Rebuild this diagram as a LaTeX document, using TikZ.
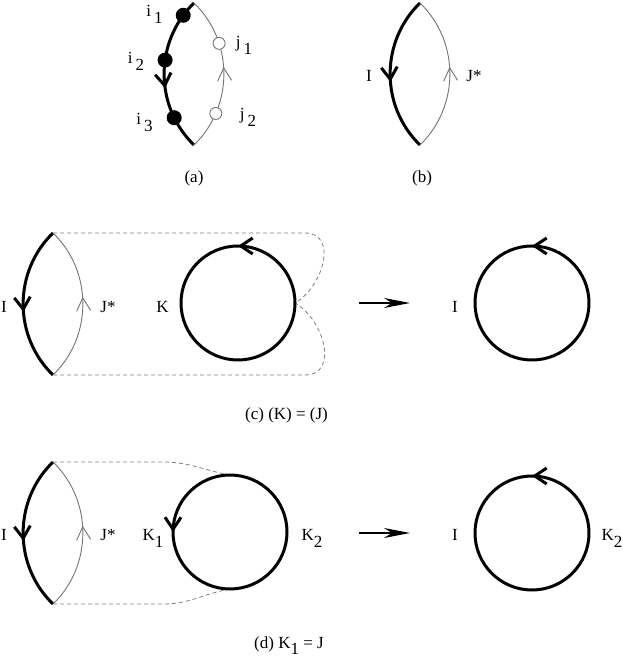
\documentclass[tikz,border=0pt]{standalone}
\usepackage{fontspec}
\setmainfont{Liberation Serif}
\usetikzlibrary{arrows.meta,decorations.markings,positioning}
\newcommand{\lowsub}[1]{\raisebox{-0.36em}{#1}}
\tikzstyle{lbl} = [font=\fontsize{17}{20}\selectfont, inner sep=0pt, anchor=base]
\tikzstyle{thickarc} = [line width=3pt]
\tikzstyle{thinarc} = [line width=0.9pt, draw=black!55]
\tikzstyle{dashline} = [line width=0.8pt, draw=black!50, dash pattern=on 4pt off 3pt]
\tikzstyle{dot} = [circle, fill=black, inner sep=0pt, minimum size=15pt]
\tikzstyle{hole} = [circle, draw=black!55, fill=white, line width=0.9pt, inner sep=0pt, minimum size=12pt]
\tikzstyle{loopnode} = [circle, inner sep=0pt, outer sep=0pt, minimum size=114pt]
\tikzstyle{arrow} = [line width=2pt, -{Stealth[length=26pt,width=10pt,inset=8pt]}]
\tikzset{
	flow/.style={postaction={decorate,decoration={markings,mark=at position #1 with {\arrow{Straight Barb[length=12pt,width=16pt]}}}}},
	thinflow/.style={postaction={decorate,decoration={markings,mark=at position #1 with {\arrow{Straight Barb[length=13pt,width=14pt]}}}}}
}
\begin{document}
\begin{tikzpicture}[x=1pt, y=1pt]
	\useasboundingbox (0,0) rectangle (623,658);

	% (a)
	\coordinate (at) at (194,655);
	\coordinate (ab) at (194,513);
	\draw [thickarc, flow=0.59] (at) to[bend right=46] (ab);
	\draw [thinarc, thinflow=0.545] (ab) to[bend right=46] (at);
	\path (at) to[bend right=46] node[dot, pos=0.1] (i1) {} node[dot, pos=0.41] (i2) {} node[dot, pos=0.79] (i3) {} (ab);
	\path (ab) to[bend right=46] node[hole, pos=0.24] (j2) {} node[hole, pos=0.7] (j1) {} (at);
	\node (li1) [lbl] at (154.5,641) {i\,\lowsub{1}};
	\node (li2) [lbl] at (136,594) {i\,\lowsub{2}};
	\node (li3) [lbl] at (144.5,533) {i\,\lowsub{3}};
	\node (lj1) [lbl] at (244,610) {j\,\lowsub{1}};
	\node (lj2) [lbl] at (248,538) {j\,\lowsub{2}};
	\node (capa) [lbl] at (194,475) {(a)};

	% (b)
	\coordinate (bt) at (420,655);
	\coordinate (bb) at (420,513);
	\draw [thickarc, flow=0.55] (bt) to[bend right=46] (bb);
	\draw [thinarc, thinflow=0.545] (bb) to[bend right=46] (bt);
	\node (bI) [lbl] at (369,576) {I};
	\node (bJ) [lbl] at (474,576) {J*};
	\node (capb) [lbl] at (422,475) {(b)};

	% (c)
	\coordinate (ct) at (53,425);
	\coordinate (cb) at (53,283);
	\node (K) [loopnode] at (238,355) {};
	\draw [dashline] (ct) -- ++(252,0) to[out=0, in=30, looseness=1.2] (K.east);
	\draw [dashline] (cb) -- ++(252,0) to[out=0, in=-30, looseness=1.2] (K.east);
	\draw [thickarc, flow=0.55] (ct) to[bend right=46] (cb);
	\draw [thinarc, thinflow=0.545] (cb) to[bend right=46] (ct);
	\draw [thickarc, flow=0.25] (K.center) circle (57pt);
	\node (cI) [lbl] at (4,345) {I};
	\node (cJ) [lbl] at (108,345) {J*};
	\node (cK) [lbl] at (162.5,345) {K};
	\coordinate (cfrom) at (359,355);
	\coordinate (cto) at (410,355);
	\draw [arrow] (cfrom) -- (cto);
	\node (Ic) [loopnode] at (532,355) {};
	\draw [thickarc, flow=0.25] (Ic.center) circle (57pt);
	\node (cI2) [lbl] at (455,345) {I};
	\node (capc) [lbl] at (286.5,238) {(c) (K) = (J)};

	% (d)
	\coordinate (dt) at (53,196);
	\coordinate (db) at (53,54);
	\node (K1) [loopnode] at (230,126) {};
	\draw [dashline] (dt) -- ++(110,0) to[out=0, in=170] (K1.north);
	\draw [dashline] (db) -- ++(110,0) to[out=0, in=190] (K1.south);
	\draw [thickarc, flow=0.55] (dt) to[bend right=46] (db);
	\draw [thinarc, thinflow=0.545] (db) to[bend right=46] (dt);
	\draw [thickarc, flow=0.5] (K1.center) circle (57pt);
	\node (dI) [lbl] at (4,117) {I};
	\node (dJ) [lbl] at (108,117) {J*};
	\node (dK1) [lbl] at (153,117) {K\lowsub{1}};
	\node (dK2) [lbl] at (312,117) {K\lowsub{2}};
	\coordinate (dfrom) at (359,125);
	\coordinate (dto) at (410,125);
	\draw [arrow] (dfrom) -- (dto);
	\node (Id) [loopnode] at (532,125) {};
	\draw [thickarc, flow=0.25] (Id.center) circle (57pt);
	\node (dI2) [lbl] at (455,117) {I};
	\node (dK3) [lbl] at (612,117) {K\lowsub{2}};
	\node (capd) [lbl] at (289,9.5) {(d) K\lowsub{1} = J};
\end{tikzpicture}
\end{document}
